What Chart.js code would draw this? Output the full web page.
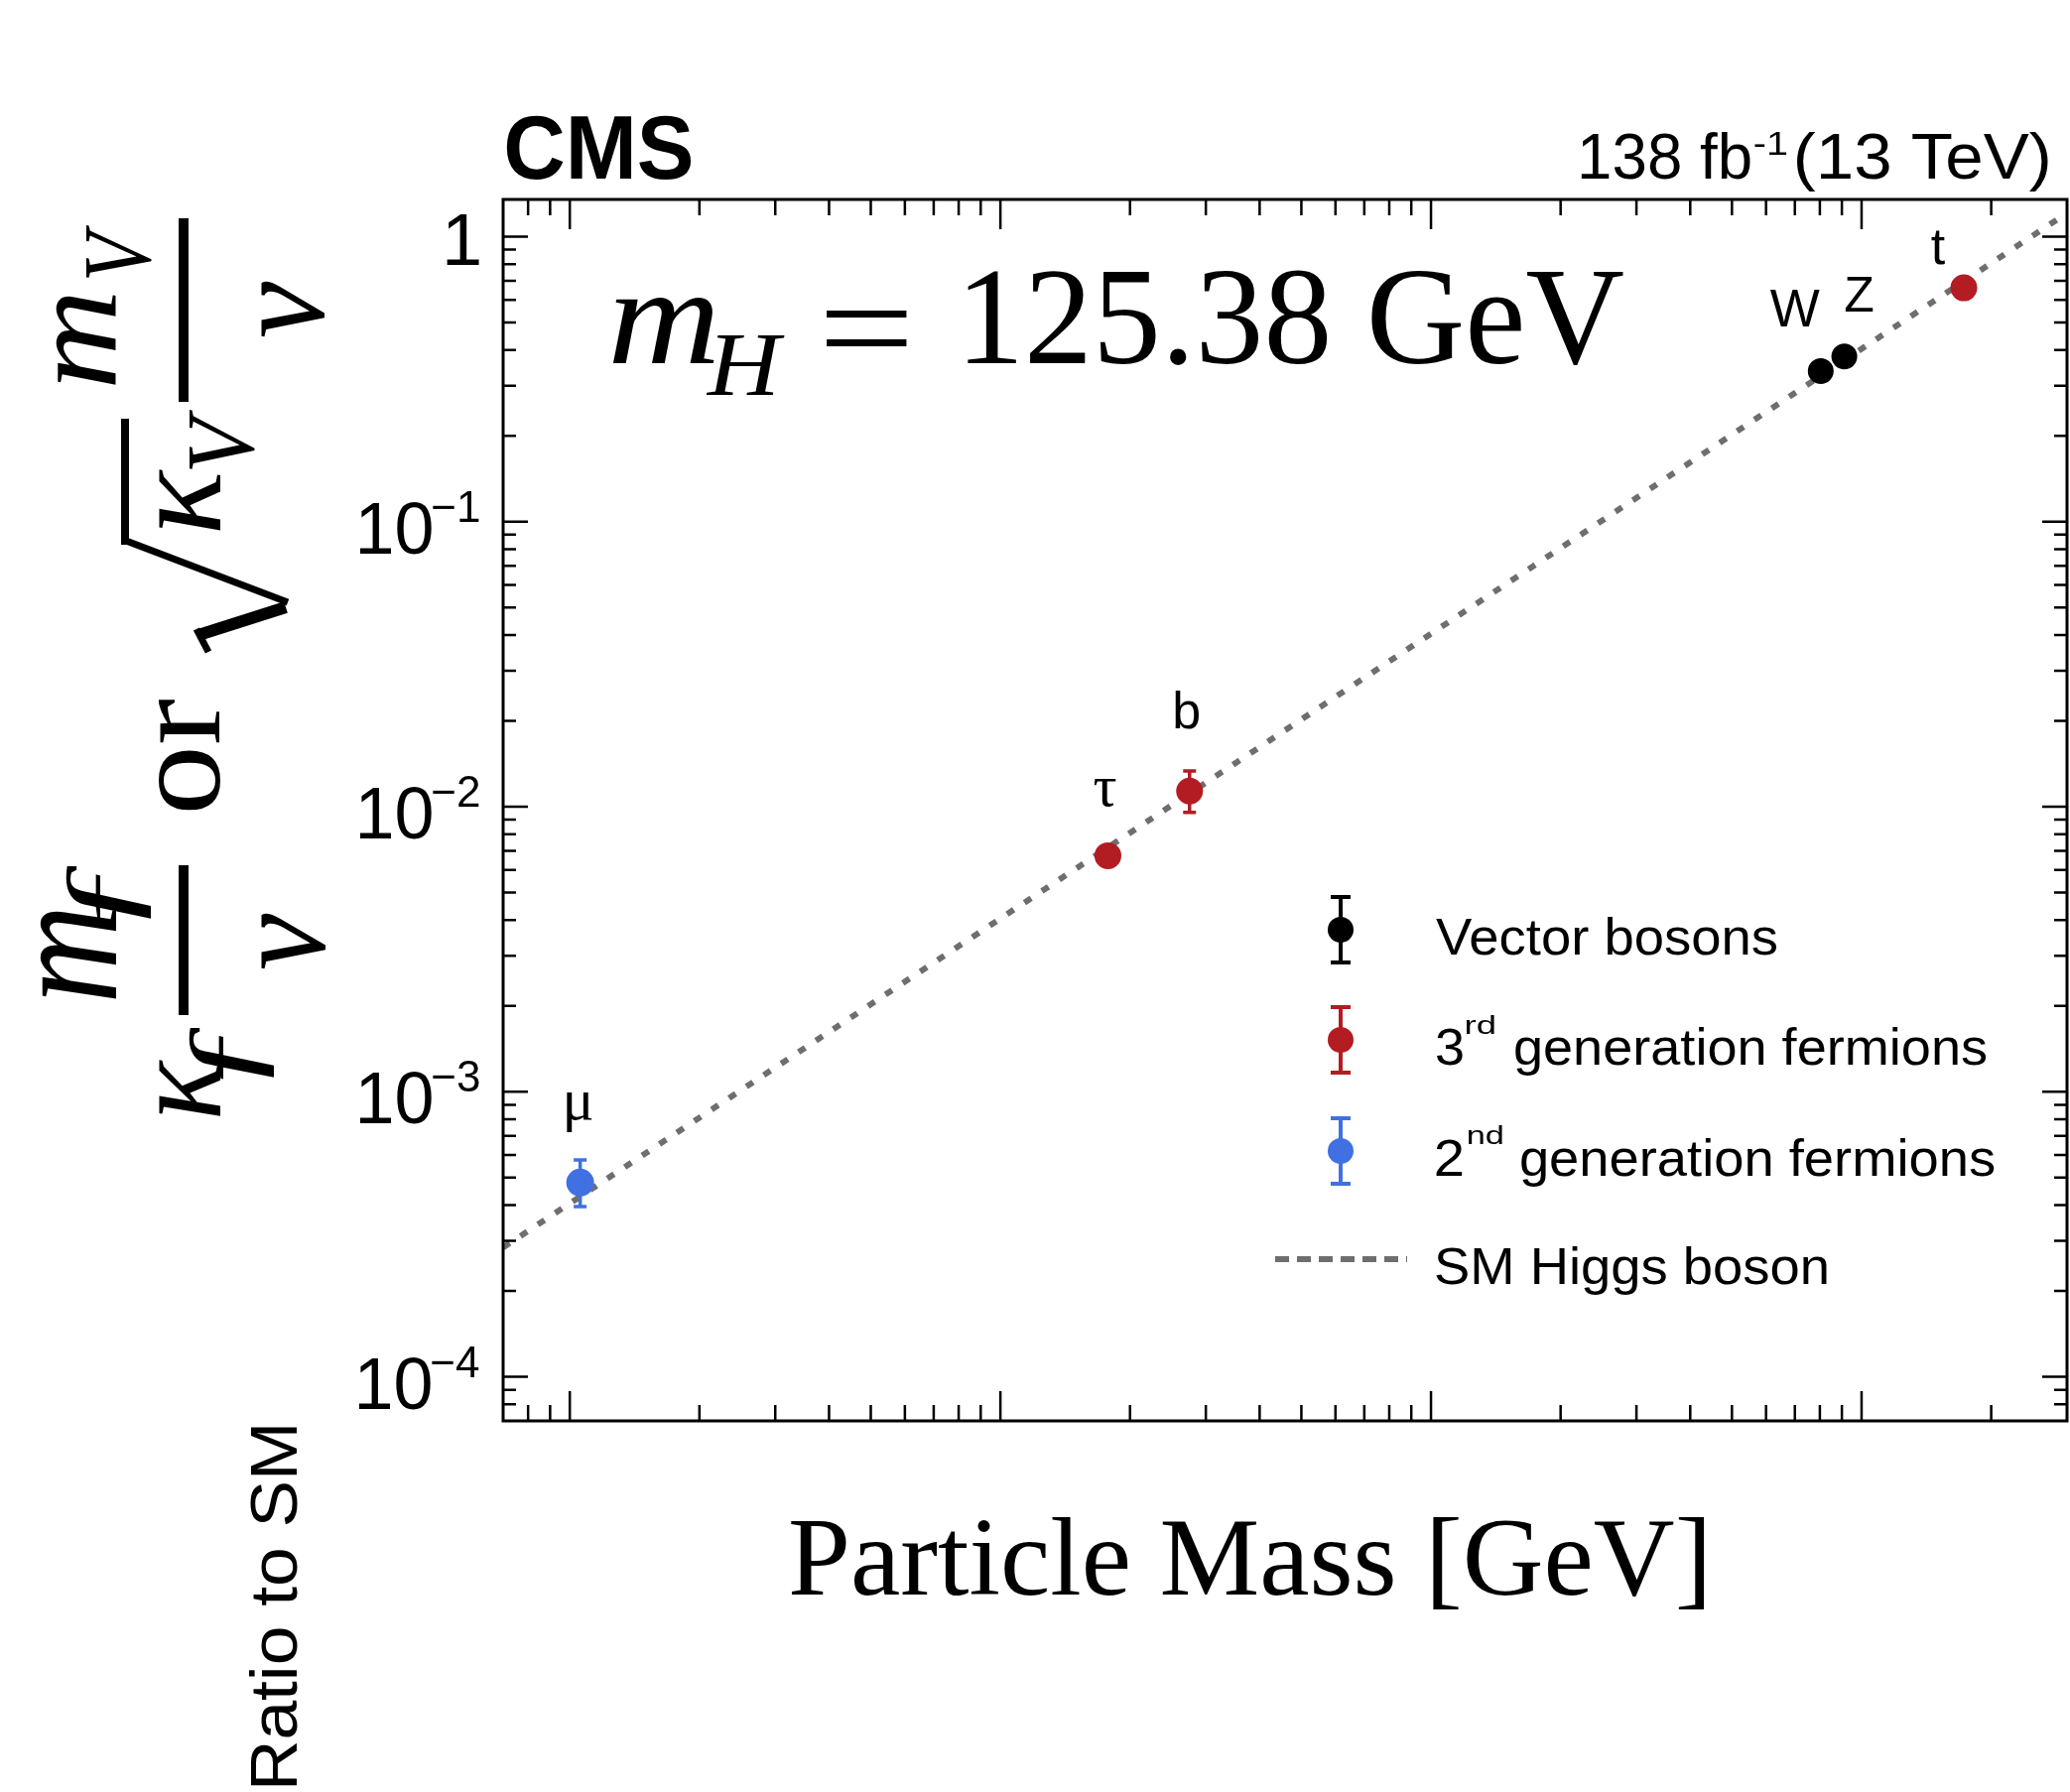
<!DOCTYPE html>
<html>
<head>
<meta charset="utf-8">
<script src="https://cdn.jsdelivr.net/npm/chart.js"></script>
<style>
  html, body { margin: 0; padding: 0; background: #fff; }
  #wrap { width: 2086px; height: 1806px; }
</style>
</head>
<body>
<div id="wrap"><canvas id="couplingChart" width="2086" height="1806"></canvas></div>
<script>
// masses [GeV] and reduced couplings
const vectorNames = ["W", "Z"];
const vectorMass = [80.38, 91.19];
const vectorCoupling = [0.3375, 0.3797];
const vectorErrUp = [0.012, 0.012];
const vectorErrDown = [0.012, 0.012];

const thirdNames = ["τ", "b", "t"];
const thirdMass = [1.777, 2.75, 172.76];
const thirdCoupling = [0.00673, 0.01134, 0.661];
const thirdErrUp = [0.0004, 0.0020, 0.035];
const thirdErrDown = [0.0004, 0.0018, 0.035];

const secondNames = ["μ"];
const secondMass = [0.1057];
const secondCoupling = [0.00048];
const secondErrUp = [0.000096];
const secondErrDown = [0.000085];

// SM expectation, end points at the frame edges
const smMass = [0.07, 300];
const smCoupling = [0.000284, 1.21];

// axis ticks
const yMajorTicks = [1e-4, 1e-3, 1e-2, 1e-1, 1];
const yTickBase = ["10", "10", "10", "10", "1"];
const yTickExp = ["−4", "−3", "−2", "−1", ""];
const xMin = 0.07, xMax = 300;
const yMin = 7e-5, yMax = 1.35;

// legend
const legendMain = ["Vector bosons", "3", "2", "SM Higgs boson"];
const legendSup = ["", "rd", "nd", ""];
const legendTail = ["", "generation fermions", "generation fermions", ""];

const RED = "#b21c22", BLUE = "#4070e2", GREY = "#6e6e6e";

function toPoints(xs, ys) {
  return xs.map((v, i) => ({ x: v, y: ys[i] }));
}

function logTicks(lo, hi) {
  const out = [];
  for (let e = Math.floor(Math.log10(lo)); e <= Math.ceil(Math.log10(hi)); e++) {
    for (let k = 1; k <= 9; k++) {
      const v = k * Math.pow(10, e);
      if (v >= lo && v <= hi) out.push({ value: v, major: k === 1 });
    }
  }
  return out;
}

// draw text so that its ink fills the box
function inkFit(ctx, str, font, x0, x1, y0, y1) {
  ctx.save();
  ctx.font = font;
  ctx.textAlign = "left";
  ctx.textBaseline = "alphabetic";
  const m = ctx.measureText(str);
  const iw = m.actualBoundingBoxLeft + m.actualBoundingBoxRight;
  const ih = m.actualBoundingBoxAscent + m.actualBoundingBoxDescent;
  ctx.translate(x0, y0);
  ctx.scale((x1 - x0) / iw, (y1 - y0) / ih);
  ctx.fillText(str, m.actualBoundingBoxLeft, m.actualBoundingBoxAscent);
  ctx.restore();
}

// draw text on a baseline, stretched so its ink spans x0..x1
function fitWidth(ctx, str, font, x0, x1, base) {
  ctx.save();
  ctx.font = font;
  ctx.textAlign = "left";
  ctx.textBaseline = "alphabetic";
  const m = ctx.measureText(str);
  const iw = m.actualBoundingBoxLeft + m.actualBoundingBoxRight;
  ctx.translate(x0, base);
  ctx.scale((x1 - x0) / iw, 1);
  ctx.fillText(str, m.actualBoundingBoxLeft, 0);
  ctx.restore();
}

const labelStyle = {
  "μ": { dx: -2, dy: -64, font: '60px "Liberation Serif"' },
  "τ": { dx: -3, dy: -50, font: '60px "Liberation Serif"' },
  "b": { dx: -3, dy: -63, font: '52px "Liberation Sans"' },
  "W": { dx: -26, dy: -45, font: '53px "Liberation Sans"' },
  "Z": { dx: 15, dy: -45, font: '50px "Liberation Sans"' },
  "t": { dx: -26, dy: -24, font: '52px "Liberation Sans"' }
};

const whiteBg = {
  id: "whiteBg",
  beforeDraw(chart) {
    const ctx = chart.ctx;
    ctx.save();
    ctx.fillStyle = "#fff";
    ctx.fillRect(0, 0, chart.width, chart.height);
    ctx.restore();
  }
};

// error bars + particle names
const errorBars = {
  id: "errorBars",
  afterDatasetsDraw(chart) {
    const { ctx, scales: { x, y } } = chart;
    ctx.save();
    chart.data.datasets.forEach(ds => {
      if (!ds.errUp) return;
      ds.data.forEach((p, i) => {
        const px = x.getPixelForValue(p.x);
        const yt = y.getPixelForValue(p.y + ds.errUp[i]);
        const yb = y.getPixelForValue(p.y - ds.errDown[i]);
        ctx.strokeStyle = ds.backgroundColor;
        ctx.lineWidth = 3.5;
        ctx.beginPath();
        ctx.moveTo(px, yt); ctx.lineTo(px, yb);
        ctx.moveTo(px - 6.5, yt); ctx.lineTo(px + 6.5, yt);
        ctx.moveTo(px - 6.5, yb); ctx.lineTo(px + 6.5, yb);
        ctx.stroke();

        const name = ds.names[i];
        const st = labelStyle[name];
        const py = y.getPixelForValue(p.y);
        ctx.fillStyle = "#000";
        ctx.font = st.font;
        ctx.textAlign = "center";
        ctx.textBaseline = "alphabetic";
        ctx.fillText(name, px + st.dx, py + st.dy);
      });
    });
    ctx.restore();
  }
};

// closed frame with inward ticks on all four sides, y tick labels
const frameTicks = {
  id: "frameTicks",
  afterDraw(chart) {
    const { ctx, chartArea: a, scales: { x, y } } = chart;
    ctx.save();
    ctx.strokeStyle = "#000";
    ctx.lineWidth = 3;
    ctx.strokeRect(a.left, a.top, a.right - a.left, a.bottom - a.top);
    ctx.lineWidth = 2.5;
    ctx.beginPath();
    x.ticks.forEach(t => {
      const px = x.getPixelForValue(t.value);
      if (px < a.left + 3 || px > a.right - 3) return;
      const len = t.major ? 30 : 16;
      ctx.moveTo(px, a.bottom); ctx.lineTo(px, a.bottom - len);
      ctx.moveTo(px, a.top); ctx.lineTo(px, a.top + len);
    });
    y.ticks.forEach(t => {
      const py = y.getPixelForValue(t.value);
      if (py < a.top + 3 || py > a.bottom - 3) return;
      const len = t.major ? 25 : 13;
      ctx.moveTo(a.left, py); ctx.lineTo(a.left + len, py);
      ctx.moveTo(a.right, py); ctx.lineTo(a.right - len, py);
    });
    ctx.stroke();

    // y tick labels 10^n
    ctx.fillStyle = "#000";
    const right = a.left - 24;
    yMajorTicks.forEach((v, i) => {
      const py = y.getPixelForValue(v);
      if (yTickExp[i] === "") {
        ctx.font = '74px "Liberation Sans"';
        const m = ctx.measureText(yTickBase[i]);
        ctx.fillText(yTickBase[i], right - m.actualBoundingBoxRight, py + 29);
        return;
      }
      ctx.font = '44px "Liberation Sans"';
      const me = ctx.measureText(yTickExp[i]);
      const ex = right - me.actualBoundingBoxRight;
      ctx.fillText(yTickExp[i], ex, py);
      const expLeft = ex - me.actualBoundingBoxLeft;
      fitWidth(ctx, yTickBase[i], '74px "Liberation Sans"', expLeft - 74, expLeft - 1, py + 32);
    });
    ctx.restore();
  }
};

// titles, formula labels, legend
const annotations = {
  id: "annotations",
  afterDraw(chart) {
    const ctx = chart.ctx;
    ctx.save();
    ctx.fillStyle = "#000";

    fitWidth(ctx, "CMS", 'bold 91px "Liberation Sans"', 510, 697, 180);
    fitWidth(ctx, "138 fb", '65px "Liberation Sans"', 1593, 1764, 180);
    fitWidth(ctx, "-1", '34px "Liberation Sans"', 1768, 1801, 156);
    fitWidth(ctx, "(13 TeV)", '65px "Liberation Sans"', 1811, 2064, 180);

    // m_H = 125.38 GeV
    fitWidth(ctx, "m", 'italic 139px "Liberation Serif"', 618, 720, 366);
    fitWidth(ctx, "H", 'italic 92px "Liberation Serif"', 712, 791, 398);
    inkFit(ctx, "=", '139px "Liberation Serif"', 832, 914, 312, 348);
    fitWidth(ctx, "125.38 GeV", '140px "Liberation Serif"', 975, 1636, 366);

    // x axis title
    fitWidth(ctx, "Particle Mass [GeV]", '112px "Liberation Serif"', 797, 1717, 1607);

    // y axis title, rotated
    const it = 'italic 120px "Liberation Serif"';
    const hook = '120px "Liberation Serif"';
    ctx.save();
    ctx.translate(222, 1125);
    ctx.rotate(-Math.PI / 2);
    inkFit(ctx, "κ", it, 0, 57, -62, 0);
    inkFit(ctx, "ƒ", hook, 37, 90, -32, 55);
    inkFit(ctx, "m", it, 118, 208, -182, -105);
    inkFit(ctx, "ƒ", hook, 197, 253, -155, -69);
    inkFit(ctx, "ν", it, 148, 205, 41, 106);
    ctx.fillRect(102, -42, 151, 10);
    inkFit(ctx, "or", '120px "Liberation Serif"', 308, 420, -62, 0);
    inkFit(ctx, "κ", it, 590, 652, -62, 0);
    inkFit(ctx, "V", it, 652, 712, -30, 35);
    ctx.fillRect(720, -42, 185, 10);
    inkFit(ctx, "m", it, 737, 828, -165, -105);
    inkFit(ctx, "V", it, 845, 898, -135, -69);
    inkFit(ctx, "ν", it, 785, 842, 41, 105);
    ctx.restore();

    // square root sign
    ctx.strokeStyle = "#000";
    ctx.lineCap = "butt";
    ctx.lineJoin = "miter";
    ctx.lineWidth = 12;
    ctx.beginPath();
    ctx.moveTo(200, 640); ctx.lineTo(288, 612);
    ctx.stroke();
    ctx.lineWidth = 7;
    ctx.beginPath();
    ctx.moveTo(210, 657); ctx.lineTo(198, 634);
    ctx.moveTo(290, 607); ctx.lineTo(127, 545);
    ctx.stroke();
    ctx.lineWidth = 8;
    ctx.beginPath();
    ctx.moveTo(126, 549); ctx.lineTo(126, 422);
    ctx.stroke();

    // "Ratio to SM" leftover label at bottom left
    ctx.save();
    ctx.translate(300, 1800);
    ctx.rotate(-Math.PI / 2);
    inkFit(ctx, "Ratio to SM", '70px "Liberation Sans"', 0, 362, -50, 0);
    ctx.restore();

    // legend
    const rows = [937, 1048, 1160, 1269];
    const colors = ["#000", RED, BLUE];
    const lx = 1351;
    for (let i = 0; i < 3; i++) {
      const ry = rows[i];
      ctx.strokeStyle = colors[i];
      ctx.fillStyle = colors[i];
      ctx.lineWidth = 4;
      ctx.beginPath();
      ctx.moveTo(lx, ry - 33); ctx.lineTo(lx, ry + 33);
      ctx.moveTo(lx - 10, ry - 33); ctx.lineTo(lx + 10, ry - 33);
      ctx.moveTo(lx - 10, ry + 33); ctx.lineTo(lx + 10, ry + 33);
      ctx.stroke();
      ctx.beginPath();
      ctx.arc(lx, ry, 13, 0, Math.PI * 2);
      ctx.fill();
    }
    ctx.strokeStyle = GREY;
    ctx.lineWidth = 6;
    ctx.setLineDash([14, 8]);
    ctx.beginPath();
    ctx.moveTo(1285, rows[3]); ctx.lineTo(1418, rows[3]);
    ctx.stroke();
    ctx.setLineDash([]);

    ctx.fillStyle = "#000";
    const lf = '52px "Liberation Sans"';
    fitWidth(ctx, legendMain[0], lf, 1447, 1791, rows[0] + 25);
    fitWidth(ctx, legendMain[1], lf, 1447, 1474, rows[1] + 25);
    fitWidth(ctx, legendSup[1], '26px "Liberation Sans"', 1477, 1506, rows[1] - 6);
    fitWidth(ctx, legendTail[1], lf, 1527, 2002, rows[1] + 25);
    fitWidth(ctx, legendMain[2], lf, 1447, 1474, rows[2] + 25);
    fitWidth(ctx, legendSup[2], '26px "Liberation Sans"', 1479, 1514, rows[2] - 7);
    fitWidth(ctx, legendTail[2], lf, 1533, 2010, rows[2] + 25);
    fitWidth(ctx, legendMain[3], lf, 1447, 1841, rows[3] + 25);
    ctx.restore();
  }
};

const axisCommon = {
  type: "logarithmic",
  display: true,
  bounds: "data",
  ticks: { display: false },
  grid: { display: false, drawTicks: false },
  border: { display: false }
};

const chart = new Chart(document.getElementById("couplingChart"), {
  type: "scatter",
  data: {
    datasets: [
      {
        label: "Vector bosons",
        data: toPoints(vectorMass, vectorCoupling),
        backgroundColor: "#000",
        borderColor: "#000",
        pointRadius: 13,
        pointHoverRadius: 13,
        borderWidth: 0,
        errUp: vectorErrUp, errDown: vectorErrDown, names: vectorNames
      },
      {
        label: "3rd generation fermions",
        data: toPoints(thirdMass, thirdCoupling),
        backgroundColor: RED,
        borderColor: RED,
        pointRadius: 13.5,
        pointHoverRadius: 13.5,
        borderWidth: 0,
        errUp: thirdErrUp, errDown: thirdErrDown, names: thirdNames
      },
      {
        label: "2nd generation fermions",
        data: toPoints(secondMass, secondCoupling),
        backgroundColor: BLUE,
        borderColor: BLUE,
        pointRadius: 14,
        pointHoverRadius: 14,
        borderWidth: 0,
        errUp: secondErrUp, errDown: secondErrDown, names: secondNames
      },
      {
        type: "line",
        label: "SM Higgs boson",
        data: toPoints(smMass, smCoupling),
        borderColor: GREY,
        borderWidth: 6,
        borderDash: [8, 13],
        pointRadius: 0,
        fill: false,
        tension: 0
      }
    ]
  },
  options: {
    responsive: false,
    animation: false,
    devicePixelRatio: 1,
    layout: { autoPadding: false, padding: { left: 507, top: 201, right: 3, bottom: 374 } },
    plugins: { legend: { display: false }, tooltip: { enabled: false } },
    scales: {
      x: Object.assign({}, axisCommon, {
        min: xMin, max: xMax,
        afterBuildTicks: s => { s.ticks = logTicks(xMin, xMax); }
      }),
      y: Object.assign({}, axisCommon, {
        min: yMin, max: yMax,
        afterBuildTicks: s => { s.ticks = logTicks(yMin, yMax); }
      })
    }
  },
  plugins: [whiteBg, errorBars, frameTicks, annotations]
});
</script>
</body>
</html>
